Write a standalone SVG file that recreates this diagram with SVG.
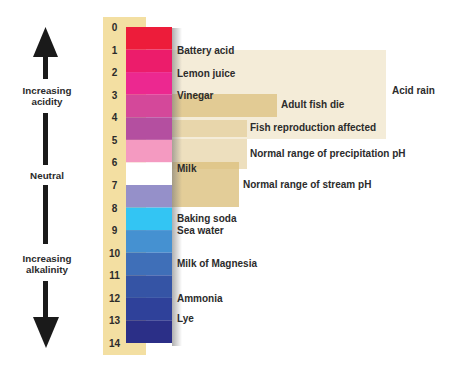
<svg xmlns="http://www.w3.org/2000/svg" width="450" height="373" viewBox="0 0 450 373">
<defs>
<linearGradient id="shadow" x1="0" y1="0" x2="1" y2="0">
<stop offset="0" stop-color="#7a7a7a" stop-opacity="0.6"/>
<stop offset="1" stop-color="#7a7a7a" stop-opacity="0"/>
</linearGradient>
<style>
text{font-family:"Liberation Sans",Arial,sans-serif;font-weight:bold;font-size:10px;fill:#2b2b2b}
.num{text-anchor:middle}
.side{text-anchor:middle;font-size:9.8px}
.band{fill:#DCC07E}
.shaft{fill:#1a1a1a}
</style>
</defs>
<rect width="450" height="373" fill="#ffffff"/>

<g id="scale-strip">
<rect x="103" y="17" width="43" height="338" fill="#F3DFA2"/>
</g>

<g id="ranges">
<g id="acid-rain"><rect class="band" x="172" y="50" width="214" height="89" opacity="0.3"/><text x="392" y="94">Acid rain</text></g>
<g id="adult-fish-die"><rect class="band" x="172" y="94" width="105" height="23" opacity="0.75"/><text x="281" y="108">Adult fish die</text></g>
<g id="fish-reproduction"><rect class="band" x="172" y="120" width="75" height="17" opacity="0.5"/><text x="250" y="131">Fish reproduction affected</text></g>
<g id="precipitation"><rect class="band" x="172" y="139" width="75" height="30" opacity="0.5"/><text x="250" y="157">Normal range of precipitation pH</text></g>
<g id="stream"><rect class="band" x="172" y="162" width="67" height="45" opacity="0.8"/><text x="243" y="188">Normal range of stream pH</text></g>
</g>

<g id="ph-bar">
<rect x="172" y="28" width="10" height="318" fill="url(#shadow)"/>
<rect x="126" y="27" width="46" height="22.6" fill="#ED1C3A"/>
<rect x="126" y="49.6" width="46" height="22.6" fill="#EC1C6B"/>
<rect x="126" y="72.1" width="46" height="22.6" fill="#EC2890"/>
<rect x="126" y="94.7" width="46" height="22.6" fill="#D4489A"/>
<rect x="126" y="117.3" width="46" height="22.6" fill="#B44FA0"/>
<rect x="126" y="139.9" width="46" height="22.6" fill="#F49AC1"/>
<rect x="126" y="162.4" width="46" height="22.6" fill="#FFFFFF"/>
<rect x="126" y="185" width="46" height="22.6" fill="#9590C9"/>
<rect x="126" y="207.6" width="46" height="22.6" fill="#33C5F3"/>
<rect x="126" y="230.1" width="46" height="22.6" fill="#4591D1"/>
<rect x="126" y="252.7" width="46" height="22.6" fill="#3F6FB8"/>
<rect x="126" y="275.3" width="46" height="22.6" fill="#3554A5"/>
<rect x="126" y="297.9" width="46" height="22.6" fill="#2F419A"/>
<rect x="126" y="320.4" width="46" height="22.6" fill="#2B2F87"/>
</g>

<g id="numbers">
<text class="num" x="114.5" y="31">0</text>
<text class="num" x="114.5" y="53.6">1</text>
<text class="num" x="114.5" y="76.1">2</text>
<text class="num" x="114.5" y="98.7">3</text>
<text class="num" x="114.5" y="121.3">4</text>
<text class="num" x="114.5" y="143.9">5</text>
<text class="num" x="114.5" y="166.4">6</text>
<text class="num" x="114.5" y="189">7</text>
<text class="num" x="114.5" y="211.6">8</text>
<text class="num" x="114.5" y="234.1">9</text>
<text class="num" x="114.5" y="256.7">10</text>
<text class="num" x="114.5" y="279.3">11</text>
<text class="num" x="114.5" y="301.9">12</text>
<text class="num" x="114.5" y="324.4">13</text>
<text class="num" x="114.5" y="347">14</text>
</g>

<g id="substances">
<text x="177" y="54">Battery acid</text>
<text x="177" y="77">Lemon juice</text>
<text x="177" y="99">Vinegar</text>
<text x="177" y="172">Milk</text>
<text x="177" y="222">Baking soda</text>
<text x="177" y="234">Sea water</text>
<text x="177" y="267">Milk of Magnesia</text>
<text x="177" y="302">Ammonia</text>
<text x="177" y="322">Lye</text>
</g>

<g id="connectors">
<polygon points="45.5,27 58,57 33,57" fill="#1a1a1a"/>
<rect class="shaft" x="43" y="56" width="5" height="23"/>
<rect class="shaft" x="43" y="113" width="5" height="52"/>
<rect class="shaft" x="43" y="185" width="5" height="59"/>
<rect class="shaft" x="43" y="281" width="5" height="37"/>
<polygon points="33,317 59,317 46,348" fill="#1a1a1a"/>
</g>

<g id="direction-labels">
<text class="side" x="47" y="94">Increasing</text>
<text class="side" x="47" y="105">acidity</text>
<text class="side" x="47" y="178.5">Neutral</text>
<text class="side" x="47" y="262">Increasing</text>
<text class="side" x="47" y="273">alkalinity</text>
</g>
</svg>
